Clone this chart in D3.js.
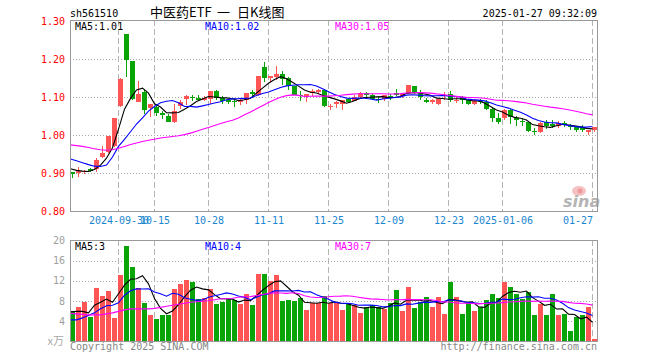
<!DOCTYPE html>
<html><head><meta charset="utf-8">
<script src="https://cdn.jsdelivr.net/npm/d3@7/dist/d3.min.js"></script>
<style>
body{margin:0;background:#fff}
svg{display:block}
text{font-family:"DejaVu Sans Mono",monospace;font-size:10px}
</style>
</head><body>
<svg id="c" width="660" height="360"></svg>
<script>
const dates = [
"2024-09-18","2024-09-19","2024-09-20","2024-09-23","2024-09-24","2024-09-25","2024-09-26","2024-09-27","2024-09-30",
"2024-10-08","2024-10-09","2024-10-10","2024-10-11","2024-10-14","2024-10-15","2024-10-16","2024-10-17","2024-10-18",
"2024-10-21","2024-10-22","2024-10-23","2024-10-24","2024-10-25","2024-10-28","2024-10-29","2024-10-30","2024-10-31",
"2024-11-01","2024-11-04","2024-11-05","2024-11-06","2024-11-07","2024-11-08","2024-11-11","2024-11-12","2024-11-13",
"2024-11-14","2024-11-15","2024-11-18","2024-11-19","2024-11-20","2024-11-21","2024-11-22","2024-11-25","2024-11-26",
"2024-11-27","2024-11-28","2024-11-29","2024-12-02","2024-12-03","2024-12-04","2024-12-05","2024-12-06","2024-12-09",
"2024-12-10","2024-12-11","2024-12-12","2024-12-13","2024-12-16","2024-12-17","2024-12-18","2024-12-19","2024-12-20",
"2024-12-23","2024-12-24","2024-12-25","2024-12-26","2024-12-27","2024-12-30","2024-12-31","2025-01-02","2025-01-03",
"2025-01-06","2025-01-07","2025-01-08","2025-01-09","2025-01-10","2025-01-13","2025-01-14","2025-01-15","2025-01-16",
"2025-01-17","2025-01-20","2025-01-21","2025-01-22","2025-01-23","2025-01-24","2025-01-27"];

const open = [0.902,0.900,0.903,0.910,0.910,0.941,0.954,0.972,1.077,1.267,1.196,1.088,1.112,1.070,1.074,1.057,1.051,1.035,
1.077,1.096,1.100,1.097,1.093,1.095,1.117,1.097,1.091,1.089,1.086,1.093,1.113,1.105,1.180,1.149,1.153,1.160,1.149,1.128,
1.106,1.099,1.111,1.113,1.119,1.074,1.081,1.082,1.094,1.090,1.100,1.111,1.104,1.095,1.095,1.102,1.111,1.102,1.111,1.130,
1.111,1.093,1.088,1.081,1.102,1.109,1.089,1.099,1.091,1.081,1.091,1.088,1.068,1.044,1.044,1.067,1.044,1.037,1.033,1.011,
1.009,1.033,1.028,1.023,1.032,1.025,1.023,1.021,1.009,1.012];
const high = [0.902,0.915,0.909,0.914,0.939,0.972,0.998,1.046,1.150,1.267,1.196,1.143,1.119,1.082,1.082,1.063,1.054,1.082,
1.091,1.106,1.106,1.105,1.102,1.117,1.119,1.102,1.096,1.097,1.095,1.111,1.118,1.156,1.193,1.154,1.182,1.168,1.153,1.130,
1.117,1.109,1.122,1.121,1.121,1.082,1.089,1.093,1.097,1.104,1.112,1.112,1.109,1.099,1.105,1.109,1.121,1.111,1.132,1.130,
1.118,1.097,1.095,1.096,1.112,1.116,1.102,1.102,1.095,1.095,1.096,1.091,1.074,1.058,1.068,1.068,1.049,1.044,1.035,1.018,
1.035,1.039,1.039,1.036,1.037,1.030,1.025,1.026,1.012,1.021];
const low = [0.886,0.889,0.897,0.902,0.902,0.939,0.953,0.968,1.073,1.153,1.091,1.086,1.054,1.047,1.051,1.042,1.033,1.032,
1.068,1.079,1.090,1.089,1.089,1.082,1.091,1.082,1.081,1.074,1.078,1.082,1.097,1.102,1.139,1.139,1.146,1.132,1.119,1.104,
1.089,1.086,1.102,1.109,1.074,1.065,1.071,1.065,1.084,1.089,1.097,1.095,1.091,1.084,1.089,1.091,1.102,1.097,1.109,1.109,
1.091,1.084,1.081,1.079,1.091,1.086,1.084,1.081,1.079,1.079,1.081,1.067,1.035,1.030,1.040,1.028,1.023,1.023,1.007,1.001,
1.005,1.016,1.018,1.018,1.021,1.014,1.007,1.009,1.000,1.009];
const close = [0.897,0.905,0.906,0.904,0.935,0.953,0.997,1.044,1.148,1.198,1.095,1.109,1.067,1.081,1.058,1.053,1.035,1.064,
1.086,1.102,1.098,1.091,1.098,1.117,1.097,1.089,1.087,1.086,1.091,1.111,1.108,1.156,1.151,1.154,1.160,1.147,1.128,1.105,
1.103,1.109,1.117,1.118,1.077,1.077,1.086,1.091,1.087,1.100,1.111,1.104,1.095,1.091,1.104,1.098,1.105,1.109,1.132,1.111,
1.100,1.088,1.091,1.095,1.106,1.091,1.093,1.091,1.082,1.093,1.088,1.068,1.044,1.035,1.067,1.047,1.039,1.033,1.011,1.007,
1.032,1.025,1.025,1.032,1.028,1.021,1.014,1.012,1.012,1.021];
// volume in 10k units
const volume = [5.9,6.75,7.7,4.7,10.5,8.9,9.9,4.5,13.2,19.0,14.8,10.5,7.5,5.1,4.3,5.1,5.1,10.3,11.3,12.1,
11.7,8.3,8.5,10.3,7.3,7.7,8.3,8.1,7.3,9.3,7.1,13.4,13.4,11.9,13.2,7.9,8.1,7.9,8.5,6.1,
7.5,7.5,8.9,7.5,7.5,6.1,7.35,7.1,5.5,6.7,7.2,6.7,6.4,7.5,10.1,5.9,10.7,6.5,7.7,8.7,
6.7,8.7,5.3,11.7,8.7,5.3,7.5,5.9,6.7,8.1,9.3,8.5,11.7,10.7,9.3,8.3,9.7,5.1,7.3,5.1,
9.3,5.1,5.3,1.9,4.7,5.1,6.7,0.3];

// moving-average values for the first bars (window reaches before the chart)
const ma5Head = [0.911,0.907,0.905,0.904];
const ma10Head = [0.937,0.932,0.927,0.922,0.918,0.917,0.921,0.942,0.970];
const ma30Head = [0.974,0.972,0.970,0.967,0.964,0.961,0.960,0.961,0.965,0.970,0.975,0.979,0.983,0.986,0.989,0.992,
0.994,0.996,0.998,1.001,1.005,1.010,1.015,1.020,1.025,1.030,1.035,1.039,1.045];
const vma5Head = [5.8,5.9,5.9,5.6];
const vma10Head = [4.2,4.2,4.6,5.1,5.6,6.4,7.0,7.1,7.6];
const vma30Head = [5.5,5.4,5.3,5.2,5.2,5.2,5.4,5.6,5.9,6.2,6.4,6.4,6.4,6.4,6.5,6.7,6.9,7.1,7.3,7.5,7.7,7.8,7.9,8.0,8.2,8.4,8.4,8.5,8.7];

const tickDates = ["2024-09-30","2024-10-15","2024-10-28","2024-11-11","2024-11-25","2024-12-09","2024-12-23","2025-01-06","2025-01-27"];
const tickLabels = ["2024-09-30","10-15","10-28","11-11","11-25","12-09","12-23","2025-01-06","01-27"];
const priceTicks = [0.80,0.90,1.00,1.10,1.20,1.30];
const priceGrid = [0.90,1.00,1.10,1.20];
const volTicks = [4,8,12,16,20];
const volGrid = [4,8,12,16];
const priceLegend = ["MA5:1.01","MA10:1.02","MA30:1.05"];
const volLegend = ["MA5:3","MA10:4","MA30:7"];
const maColors = ["#000000","#0000ff","#ff00ff"];

function movingAvg(vals, n, head){
  return vals.map((v,i)=> i < n-1 ? head[i] : d3.mean(vals.slice(i-n+1, i+1)));
}

const svg = d3.select("#c");
const L = 70, R = 597, PT = 20, PB = 211, VT = 240, VB = 341;
const RED = "#ff5555", GREEN = "#08a408";
const x = d3.scaleLinear().domain([0, dates.length-1]).range([70, 70 + 6*(dates.length-1)]);
const yP = d3.scaleLinear().domain([0.8, 1.3]).range([211, 21]);
const yV = d3.scaleLinear().domain([0, 20]).range([341, 240.5]);
const idx = d3.range(dates.length);
const up = i => close[i] >= open[i];
const tickIdx = tickDates.map(d => dates.indexOf(d));

svg.append("rect").attr("width",660).attr("height",360).attr("fill","#fff");

// clip paths
const defs = svg.append("defs");
defs.append("clipPath").attr("id","cp").append("rect").attr("x",L).attr("y",PT).attr("width",R-L).attr("height",PB-PT);
defs.append("clipPath").attr("id","cv").append("rect").attr("x",L).attr("y",VT).attr("width",R-L).attr("height",VB-VT);

// watermark
const wm = svg.append("g");
wm.append("ellipse").attr("cx",579).attr("cy",191).attr("rx",7).attr("ry",5).attr("fill","#f5c2c2");
wm.append("circle").attr("cx",580).attr("cy",191).attr("r",2.5).attr("fill","#ee9999");
wm.append("text").attr("x",563).attr("y",207).text("sina")
  .style("font-family","DejaVu Sans").style("font-size","16px").style("font-style","italic").style("font-weight","bold")
  .attr("fill","#b4b4b4");

// grids
function grids(top, bottom, yScale, vals){
  const g = svg.append("g");
  g.selectAll("line.h").data(vals).join("line")
    .attr("x1",L).attr("x2",R).attr("y1",d=>Math.round(yScale(d))+0.5).attr("y2",d=>Math.round(yScale(d))+0.5)
    .attr("stroke","#a8a8a8").attr("stroke-dasharray","1,2");
  g.selectAll("line.v").data(tickIdx).join("line")
    .attr("x1",d=>x(d)+0.5).attr("x2",d=>x(d)+0.5).attr("y1",top).attr("y2",bottom)
    .attr("stroke","#b4b4b4").attr("stroke-dasharray","6,3");
}
grids(PT, PB, yP, priceGrid);
grids(VT, VB, yV, volGrid);

// candles
const cg = svg.append("g").attr("clip-path","url(#cp)");
cg.selectAll("rect.w").data(idx).join("rect")
  .attr("x",i=>x(i)+2).attr("width",1)
  .attr("y",i=>Math.round(yP(high[i])))
  .attr("height",i=>Math.max(1,Math.round(yP(low[i]))-Math.round(yP(high[i]))))
  .attr("fill",i=>up(i)?RED:GREEN);
cg.selectAll("rect.b").data(idx).join("rect")
  .attr("x",i=>x(i)).attr("width",5)
  .attr("y",i=>Math.round(yP(Math.max(open[i],close[i]))))
  .attr("height",i=>Math.max(1,Math.round(yP(Math.min(open[i],close[i])))-Math.round(yP(Math.max(open[i],close[i])))))
  .attr("fill",i=>up(i)?RED:GREEN);

// volume bars
const vg = svg.append("g").attr("clip-path","url(#cv)");
vg.selectAll("rect").data(idx).join("rect")
  .attr("x",i=>x(i)).attr("width",5)
  .attr("y",i=>Math.round(yV(volume[i])))
  .attr("height",i=>Math.max(0,Math.round(yV(0))-Math.round(yV(volume[i]))))
  .attr("fill",i=>up(i)?RED:GREEN);

// MA lines
function maLines(g, yScale, series){
  series.forEach((s,k)=>{
    g.append("path").datum(s)
      .attr("d", d3.line().x((d,i)=>x(i)+0.5).y(d=>yScale(d)))
      .attr("fill","none").attr("stroke",maColors[k]).attr("stroke-width",1.1);
  });
}
maLines(cg, yP, [movingAvg(close,5,ma5Head), movingAvg(close,10,ma10Head), movingAvg(close,30,ma30Head)]);
maLines(vg, yV, [movingAvg(volume,5,vma5Head), movingAvg(volume,10,vma10Head), movingAvg(volume,30,vma30Head)]);

// frames
[[PT,PB],[VT,VB]].forEach(([t,b])=>{
  svg.append("rect").attr("x",L+0.5).attr("y",t+0.5).attr("width",R-L).attr("height",b-t)
    .attr("fill","none").attr("stroke","#999");
});

// axes
const ay = svg.append("g").attr("transform",`translate(${L},0)`)
  .call(d3.axisLeft(yP).tickValues(priceTicks).tickFormat(d3.format(".2f")).tickSize(0).tickPadding(5));
ay.select(".domain").remove();
ay.selectAll("text").attr("fill","#ff0000").style("font-family","DejaVu Sans Mono").style("font-size","10px");

const av = svg.append("g").attr("transform",`translate(${L},0)`)
  .call(d3.axisLeft(yV).tickValues(volTicks).tickFormat(d3.format("d")).tickSize(0).tickPadding(5));
av.select(".domain").remove();
av.selectAll("text").attr("fill","#a0a0a0").style("font-family","DejaVu Sans Mono").style("font-size","10px");
svg.append("text").attr("x",64).attr("y",345).attr("text-anchor","end").attr("fill","#a8a8a8")
  .style("font-family","Noto Sans CJK SC").style("font-size","11px").text("x万");

const ax = svg.append("g").attr("transform",`translate(0.5,${PB})`)
  .call(d3.axisBottom(x).tickValues(tickIdx).tickFormat((d,k)=>tickLabels[k]).tickSize(0).tickPadding(6));
ax.select(".domain").remove();
ax.selectAll("text").attr("fill","#1a86cf").style("font-family","DejaVu Sans Mono").style("font-size","10px")
  .each(function(d){
    const w = this.getComputedTextLength();
    if (x(d) + w/2 > R) d3.select(this).attr("text-anchor","end");
  });

// legends
const legX = [75, 205, 335];
priceLegend.forEach((t,k)=> svg.append("text").attr("x",legX[k]).attr("y",30).attr("fill",maColors[k]).text(t));
volLegend.forEach((t,k)=> svg.append("text").attr("x",legX[k]).attr("y",250).attr("fill",maColors[k]).text(t));

// header
svg.append("text").attr("x",70).attr("y",17).attr("fill","#000").text("sh561510");
const title = svg.append("text").attr("y",17).attr("fill","#000")
  .style("font-family","Noto Sans CJK SC").style("font-size","13px");
title.append("tspan").attr("x",150).text("中医药ETF");
title.append("tspan").attr("x",217).text("一");
title.append("tspan").attr("x",237).text("日K线图");
svg.append("text").attr("x",597).attr("y",17).attr("text-anchor","end").attr("fill","#000").text("2025-01-27 09:32:09");

// footer
svg.append("text").attr("x",70).attr("y",350).attr("fill","#888").text("Copyright 2025 SINA.COM");
svg.append("text").attr("x",597).attr("y",350).attr("text-anchor","end").attr("fill","#888").text("http://finance.sina.com.cn");
</script>
</body></html>
